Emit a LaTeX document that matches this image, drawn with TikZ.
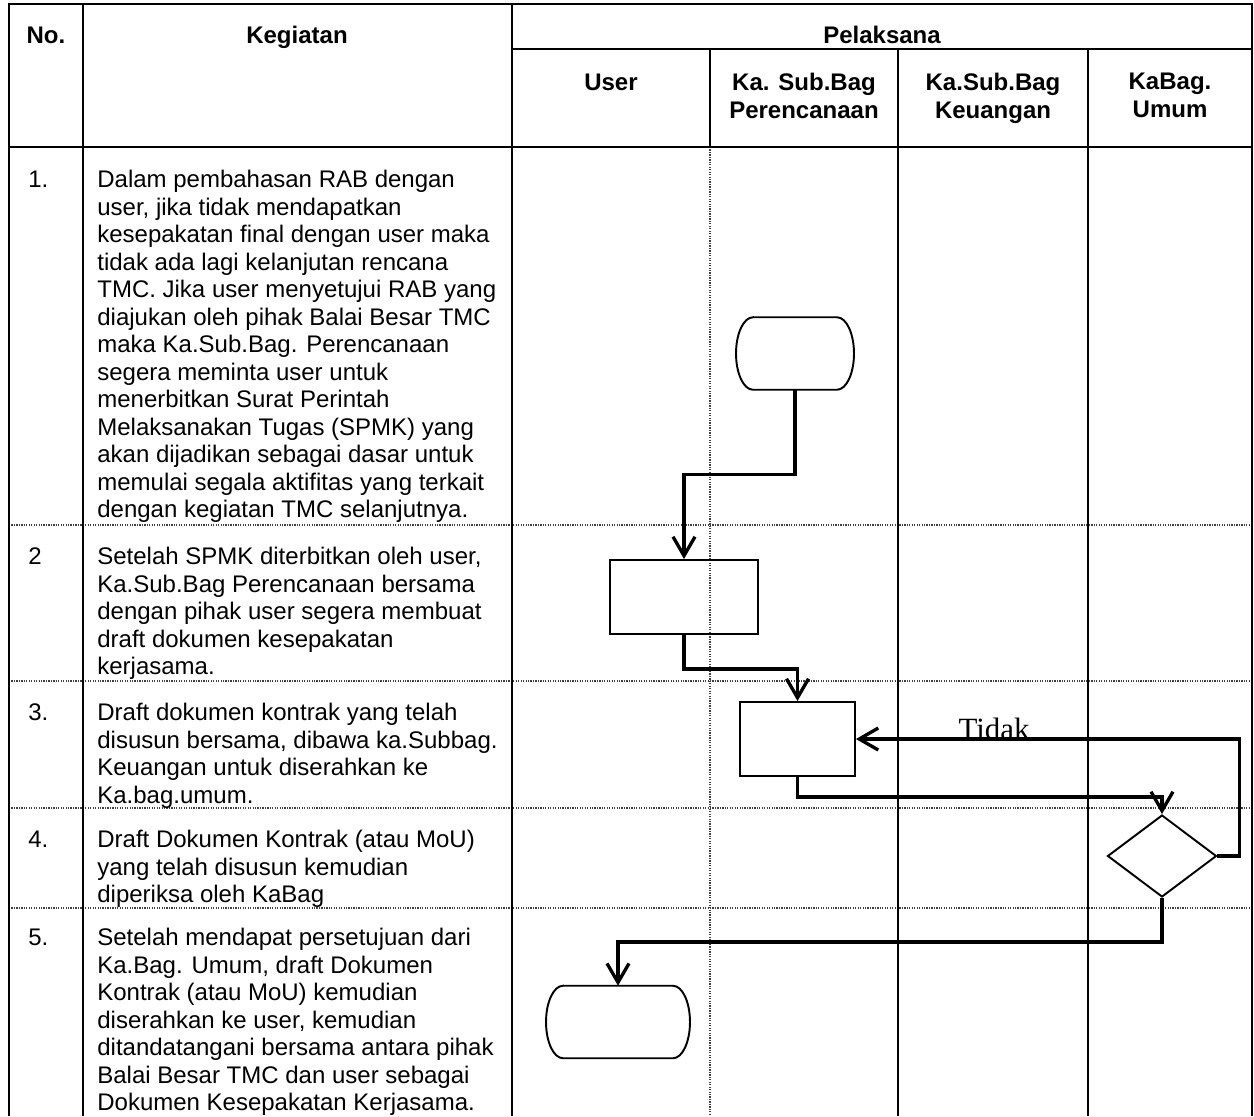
\documentclass[tikz,border=0pt]{standalone}
\usepackage{fontspec}
\setmainfont{Liberation Sans}
\newfontfamily\tidakfont{Liberation Serif}
\usetikzlibrary{shapes.geometric,arrows.meta}

\begin{document}
\begin{tikzpicture}[x=0.02cm,y=-0.02cm,>={Straight Barb[length=0.38cm,width=0.44cm]},
    flow/.style={->,line width=1.9pt},
    edge/.style={line width=1.1pt},
    box/.style={rectangle,draw,line width=1.1pt,inner sep=0pt,minimum height=1.48cm},
    term/.style={rectangle,inner sep=0pt,outer sep=0pt,minimum height=1.45cm},
    dec/.style={diamond,draw,line width=1.1pt,inner sep=0pt},
    tabline/.style={line width=0.9pt},
    rowline/.style={line width=0.6pt,black!75,dash pattern=on 0.7pt off 0.7pt},
    head/.style={font=\bfseries\fontsize{13.66}{15.65}\selectfont,inner sep=0pt,align=center},
    num/.style={font=\fontsize{13.66}{15.65}\selectfont,inner sep=0pt,anchor=base west},
    txt/.style={font=\fontsize{13.66}{15.65}\selectfont,inner sep=0pt,anchor=north west,align=left}]

                \clip (0,0) rectangle (1254,1116);

                % the table
                \draw[rowline] (710,147) -- (710,1116);
                \foreach \y in {525,681,808,908}
                    \draw[rowline] (9,\y) -- (1252,\y);
                \draw[tabline] (9,1116) -- (9,4) -- (1252,4) -- (1252,1116);
                \draw[tabline] (83,4) -- (83,1116);
                \draw[tabline] (512,4) -- (512,1116);
                \draw[tabline] (512,49) -- (1252,49);
                \draw[tabline] (9,147) -- (1252,147);
                \draw[tabline] (710,49) -- (710,147);
                \draw[tabline] (898,49) -- (898,1116);
                \draw[tabline] (1088,49) -- (1088,1116);

                \node[head,anchor=base] (hno) at (46,43) {No.};
                \node[head,anchor=base] (hkeg) at (297,43) {Kegiatan};
                \node[head,anchor=base] (hpel) at (882,43) {Pelaksana};
                \node[head,anchor=base] (huser) at (611,90) {User};
                \node[head,anchor=north] (hper) at (804,73) {Ka. Sub.Bag\\Perencanaan};
                \node[head,anchor=north] (hkeu) at (993,73) {Ka.Sub.Bag\\Keuangan};
                \node[head,anchor=north] (hkab) at (1170,73) {KaBag.\\Umum};

                \node[num] (n1) at (28,187) {1.};
                \node[num] (n2) at (28,564) {2};
                \node[num] (n3) at (28,720) {3.};
                \node[num] (n4) at (28,847) {4.};
                \node[num] (n5) at (28,945) {5.};

                \node[txt] (k1) at (97,170) {Dalam pembahasan RAB dengan\\user, jika tidak mendapatkan\\kesepakatan final dengan user maka\\tidak ada lagi kelanjutan rencana\\TMC. Jika user menyetujui RAB yang\\diajukan oleh pihak Balai Besar TMC\\maka Ka.Sub.Bag. Perencanaan\\segera meminta user untuk\\menerbitkan Surat Perintah\\Melaksanakan Tugas (SPMK) yang\\akan dijadikan sebagai dasar untuk\\memulai segala aktifitas yang terkait\\dengan kegiatan TMC selanjutnya.};
                \node[txt] (k2) at (97,547) {Setelah SPMK diterbitkan oleh user,\\Ka.Sub.Bag Perencanaan bersama\\dengan pihak user segera membuat\\draft dokumen kesepakatan\\kerjasama.};
                \node[txt] (k3) at (97,703) {Draft dokumen kontrak yang telah\\disusun bersama, dibawa ka.Subbag.\\Keuangan untuk diserahkan ke\\Ka.bag.umum.};
                \node[txt] (k4) at (97,830) {Draft Dokumen Kontrak (atau MoU)\\yang telah disusun kemudian\\diperiksa oleh KaBag};
                \node[txt] (k5) at (97,928) {Setelah mendapat persetujuan dari\\Ka.Bag. Umum, draft Dokumen\\Kontrak (atau MoU) kemudian\\diserahkan ke user, kemudian\\ditandatangani bersama antara pihak\\Balai Besar TMC dan user sebagai\\Dokumen Kesepakatan Kerjasama.};

                % the flow
                \node[term,minimum width=1.68cm] (s1) at (795,353.5) {};
                \node[box,minimum width=2.96cm] (r1) at (684,597) {};
                \node[box,minimum width=2.3cm] (r2) at (797.5,739) {};
                \node[dec,minimum width=2.18cm,minimum height=1.64cm] (d1) at (1162,856) {};
                \node[term,minimum width=2.2cm] (s2) at (618,1022) {};

                \draw[edge] (s1.north west) -- (s1.north east)
                    arc[start angle=90,end angle=-90,x radius=0.34cm,y radius=0.725cm]
                    -- (s1.south west)
                    arc[start angle=270,end angle=90,x radius=0.34cm,y radius=0.725cm] -- cycle;
                \draw[edge] (s2.north west) -- (s2.north east)
                    arc[start angle=90,end angle=-90,x radius=0.34cm,y radius=0.725cm]
                    -- (s2.south west)
                    arc[start angle=270,end angle=90,x radius=0.34cm,y radius=0.725cm] -- cycle;

                \draw[flow] (s1.south) -- ++(0,85) -| (r1.north);
                \draw[flow] (r1.south) -- ++(0,34) -| (r2.north);
                \draw[flow] (r2.south) -- ++(0,20) -| (d1.north);
                \draw[flow] (d1.east) -- ++(22,0) |- (r2.east)
                    node[pos=0.82,anchor=base,inner sep=0pt,font=\tidakfont\fontsize{17.6}{20}\selectfont] (tidak) {Tidak};
                \draw[flow] (d1.south) -- ++(0,44) -| (s2.north);

                ;
            \end{tikzpicture}
\end{document}
